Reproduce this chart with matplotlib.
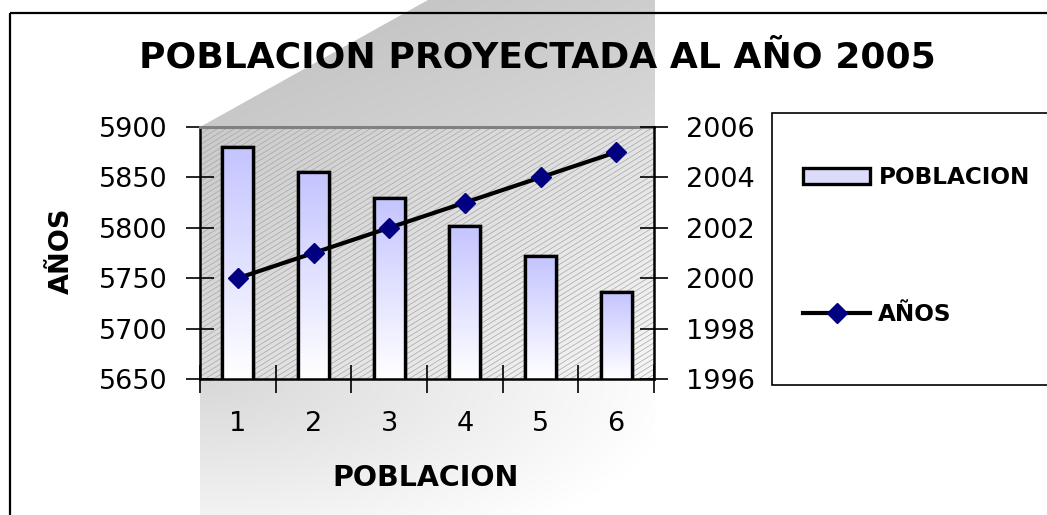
import numpy as np
import matplotlib
matplotlib.use("Agg")
import matplotlib.pyplot as plt
from matplotlib.patches import Polygon, Rectangle
from matplotlib.collections import LineCollection
from matplotlib.colors import to_rgb

plt.rcParams['font.family'] = ['DejaVu Sans']

# ---- data ----
categories = [1, 2, 3, 4, 5, 6]
cat_labels = ['1', '2', '3', '4', '5', '6']
poblacion = [5880, 5855, 5830, 5802, 5772, 5736]
anios = [2000, 2001, 2002, 2003, 2004, 2005]
left_ticks = [5650, 5700, 5750, 5800, 5850, 5900]
right_ticks = [1996, 1998, 2000, 2002, 2004, 2006]
title = 'POBLACION PROYECTADA AL AÑO 2005'
xlabel = 'POBLACION'
ylabel = 'AÑOS'
series_names = ['POBLACION', 'AÑOS']

W, H = 1047, 515
fig = plt.figure(figsize=(W / 100, H / 100), dpi=100)
fig.patch.set_facecolor('white')

# background axes in pixel coordinates
bg = fig.add_axes([0, 0, 1, 1], zorder=-5)
bg.set_axis_off()

PL, PR, PT, PB = 200, 654, 127, 379  # plot area in pixels


def grad_fill(verts, colfunc, z):
    poly = Polygon(verts, closed=True, facecolor='none', edgecolor='none')
    bg.add_patch(poly)
    xs = [v[0] for v in verts]
    ys = [v[1] for v in verts]
    x0, x1, y0, y1 = min(xs), max(xs), min(ys), max(ys)
    gx, gy = np.meshgrid(np.linspace(x0, x1, 200), np.linspace(y0, y1, 200))
    img = colfunc(gx, gy)
    im = bg.imshow(img, extent=(x0, x1, y1, y0), origin='upper', aspect='auto',
                   interpolation='bilinear', zorder=z)
    im.set_clip_path(poly)


def lerp(c0, c1, t):
    c0 = np.array(to_rgb(c0)); c1 = np.array(to_rgb(c1))
    t = np.clip(t, 0, 1)[..., None]
    return c0 * (1 - t) + c1 * t


# gray wall above plot area
grad_fill([(PL, PT), (428, 0), (PR + 1, 0), (PR + 1, PT)],
          lambda x, y: lerp('#bebebe', '#d8d8d8', ((x - PL) / 454 * 0.6 + y / 128 * 0.4)), 1)
# floor below plot area
grad_fill([(PL, PB), (PR + 1, PB), (PR + 1, H), (PL, H)],
          lambda x, y: lerp('#d8d8d8', '#ffffff',
                            np.sqrt(((x - PL) / 480) ** 2 + ((y - PB) / 200) ** 2)), 1)
# plot area background
grad_fill([(PL, PT), (PR, PT), (PR, PB), (PL, PB)],
          lambda x, y: lerp('#cacaca', '#f6f6f6', ((x - PL) / 454 * 0.55 + (y - PT) / 252 * 0.45)), 2)

# hatch lines in plot area
clip_rect = Rectangle((PL, PT), PR - PL, PB - PT, facecolor='none', edgecolor='none')
bg.add_patch(clip_rect)
slope = 0.62
segs = []
for x0 in np.arange(PL - 700, PR + 20, 8.5):
    segs.append([(x0, PB + 10), (x0 + 420 / slope, PB + 10 - 420)])
lc = LineCollection(segs, colors='#a6a6a6', linewidths=0.5, zorder=3)
bg.add_collection(lc)
lc.set_clip_path(clip_rect)

# outer frame
bg.plot([10, W + 5], [13, 13], color='black', lw=1.6, zorder=6, solid_capstyle='butt')
bg.plot([10, 10], [13, H + 5], color='black', lw=1.6, zorder=6, solid_capstyle='butt')
# legend box
bg.add_patch(Rectangle((772, 113), 320, 272, facecolor='white', edgecolor='black',
                       lw=1.2, zorder=6))
bg.set_xlim(0, W)
bg.set_ylim(H, 0)

# ---- main axes ----
ax = fig.add_axes([PL / W, (H - PB) / H, (PR - PL) / W, (PB - PT) / H])
ax.patch.set_visible(False)
ymin, ymax = 5650, 5900
bars = ax.bar(categories, poblacion, width=0.41, color='#dcdcfa', edgecolor='black',
              linewidth=2.4, zorder=2, label=series_names[0])
for b in bars:
    x0 = b.get_x(); x1 = x0 + b.get_width(); top = b.get_height()
    grad = lerp('#c4c4ff', '#ffffff', np.linspace(0, 1, 100))[:, None, :]
    grad = np.repeat(grad, 2, axis=1)
    im = ax.imshow(grad, extent=(x0, x1, ymin, top), origin='upper', aspect='auto',
                   interpolation='bilinear', zorder=2.5)
    im.set_clip_path(b)
ax.bar(categories, poblacion, width=0.41, fill=False, edgecolor='black', linewidth=2.4, zorder=3)

ax.set_xlim(0.5, 6.5)
ax.set_ylim(ymin, ymax)
ax.set_yticks(left_ticks)
ax.set_yticklabels([str(v) for v in left_ticks])
ax.set_xticks(np.arange(0.5, 7.0, 1.0))
ax.set_xticklabels([''] * 7)
ax.set_xticks(categories, minor=True)
ax.set_xticklabels(cat_labels, minor=True)
ax.tick_params(axis='y', direction='inout', length=20, width=1.2, pad=13, labelsize=19.5)
ax.tick_params(axis='x', which='major', direction='inout', length=20, width=1.2)
ax.tick_params(axis='x', which='minor', length=0, pad=23, labelsize=19.5)
for s in ['left', 'bottom']:
    ax.spines[s].set_linewidth(1.8)
ax.spines['right'].set_visible(False)
ax.spines['top'].set_color('#808080')
ax.spines['top'].set_linewidth(2.2)

ax2 = ax.twinx()
line, = ax2.plot(categories, anios, color='black', lw=3.0, marker='D', markersize=10,
                 markerfacecolor='#000080', markeredgecolor='#000080', zorder=5,
                 label=series_names[1])
ax2.set_ylim(1996, 2006)
ax2.set_yticks(right_ticks)
ax2.set_yticklabels([str(v) for v in right_ticks])
ax2.tick_params(axis='y', direction='inout', length=20, width=1.2, pad=13, labelsize=19.5)
for s in ['left', 'top', 'bottom']:
    ax2.spines[s].set_visible(False)
ax2.spines['right'].set_linewidth(1.8)

# titles and labels
fig.text(537 / W, 1 - 68 / H, title, ha='center', va='baseline', fontsize=26, fontweight='bold')
fig.text(426 / W, 1 - 486 / H, xlabel, ha='center', va='baseline', fontsize=20.5, fontweight='bold')
fig.text(62 / W, 1 - 251 / H, ylabel, ha='center', va='center', rotation=90,
         fontsize=19.5, fontweight='bold')

# legend
leg = fig.legend(handles=[bars, line], labels=series_names, loc='upper left',
                 bbox_to_anchor=(803 / W, 1 - 166 / H), frameon=False, borderpad=0,
                 borderaxespad=0, handlelength=2.9, handleheight=0.65,
                 handletextpad=0.35, labelspacing=4.9, prop={'weight': 'bold', 'size': 16.7})

fig.savefig('out.png', dpi=100)
